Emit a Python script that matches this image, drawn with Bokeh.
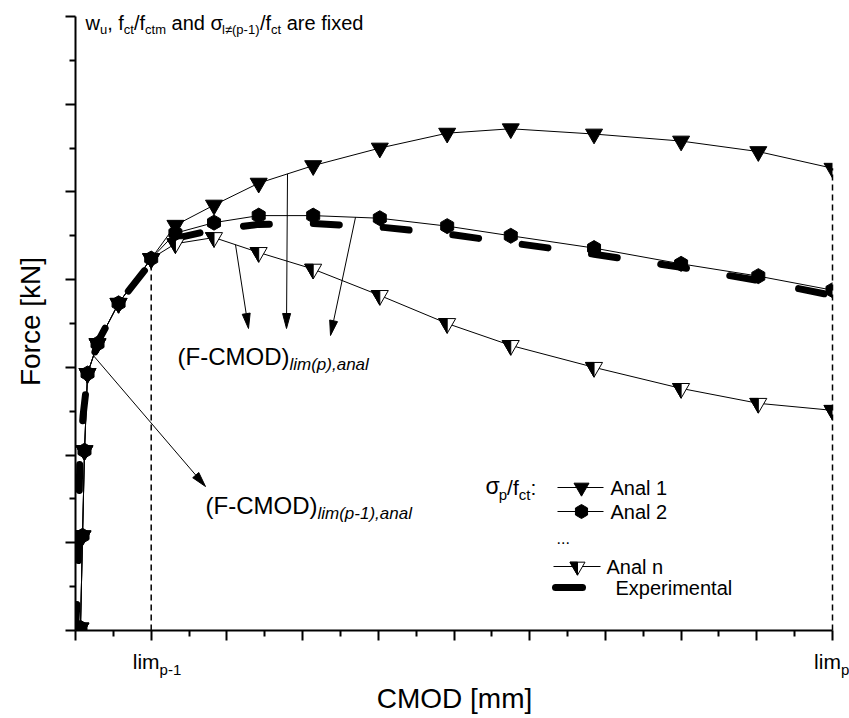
import math
import numpy as np
from bokeh.plotting import figure
from bokeh.models import Range1d, FixedTicker, Label, CustomJSTickFormatter
from bokeh.embed import file_html
from bokeh.resources import INLINE

# ---------------- data ----------------
cmod_shared = [0.066, 0.093, 0.119, 0.159, 0.291, 0.569, 1.0]
force_shared = [0.03, 1.08, 2.05, 2.93, 3.27, 3.73, 4.24]
cmod_post = [1.32, 1.83, 2.42, 3.14, 4.02, 4.91, 5.75, 6.85, 8.0, 9.02, 10.0]
force_anal1 = [4.62, 4.85, 5.10, 5.30, 5.50, 5.67, 5.72, 5.66, 5.58, 5.46, 5.27]
force_anal2 = [4.53, 4.65, 4.73, 4.73, 4.70, 4.61, 4.50, 4.36, 4.18, 4.04, 3.88]
force_analn = [4.41, 4.48, 4.31, 4.12, 3.82, 3.50, 3.25, 3.00, 2.76, 2.59, 2.51]
cmod_exp = [0.0, 0.03, 0.045, 0.055, 0.10, 0.16, 0.30, 0.57, 1.0, 1.32, 1.83,
            2.42, 3.14, 4.02, 4.91, 5.75, 6.85, 8.0, 9.02, 10.0]
force_exp = [0.0, 0.5, 1.2, 1.9, 2.45, 2.9, 3.3, 3.73, 4.20, 4.47, 4.57,
             4.63, 4.64, 4.60, 4.52, 4.42, 4.29, 4.14, 3.99, 3.82]
lim_cmod = [1.0, 10.0]
lim_subs = ["p-1", "p"]
x_major = list(range(0, 11))
x_minor = [i + 0.5 for i in range(10)]
y_major = list(range(0, 8))
y_minor = [i + 0.5 for i in range(7)]

# ---------------- layout ----------------
W, H = 849, 718
L, R, T, B = 75, 17, 16, 88          # where the axes box sits in the canvas
KX = (W - L - R) / 10.0
KY = (H - T - B) / 7.0
FONT = "Liberation Sans"
XS, XE = -L / KX, 10 + R / KX
YS, YE = -B / KY, 7 + T / KY
BL = 0.35   # baseline correction (fraction of font size)


def X(px):
    return (px - L) / KX


def Y(py):
    return (H - B - py) / KY


AW = {' ': 278, ',': 278, '(': 333, ')': 333, '-': 333, '/': 278, '.': 278, ':': 278,
      '[': 278, ']': 278, '1': 556, 'A': 667, 'C': 722, 'D': 722, 'E': 667, 'F': 611,
      'M': 833, 'N': 722, 'O': 778, 'a': 556, 'c': 500, 'd': 556, 'e': 556, 'f': 278,
      'i': 222, 'k': 500, 'l': 222, 'm': 833, 'n': 556, 'o': 556, 'p': 556, 'r': 333,
      's': 500, 't': 278, 'u': 556, 'w': 722, 'x': 500, 'σ': 575, '≠': 584}


def tw(s, size):
    return sum(AW.get(c, 556) for c in s) * size / 1000.0


p = figure(width=W, height=H, x_range=Range1d(XS, XE), y_range=Range1d(YS, YE),
           output_backend="svg", toolbar_location=None,
           min_border_left=0, min_border_right=0, min_border_top=0, min_border_bottom=0)
p.outline_line_color = None
p.xgrid.visible = False
p.ygrid.visible = False
p.background_fill_color = "white"
p.border_fill_color = "white"

p.xaxis.ticker = FixedTicker(ticks=x_major, minor_ticks=x_minor)
p.yaxis.ticker = FixedTicker(ticks=y_major, minor_ticks=y_minor)
p.xaxis.fixed_location = 0
p.yaxis.fixed_location = 0
p.xaxis.bounds = (0, 10)
p.yaxis.bounds = (0, 7)
for ax in (p.xaxis[0], p.yaxis[0]):
    ax.axis_line_width = 2
    ax.axis_line_color = "black"
    ax.major_tick_line_width = 2
    ax.minor_tick_line_width = 2
    ax.major_tick_line_color = "black"
    ax.minor_tick_line_color = "black"
    ax.major_tick_out = 10
    ax.major_tick_in = 0
    ax.minor_tick_out = 6
    ax.minor_tick_in = 0
    ax.formatter = CustomJSTickFormatter(code="return ''")
    ax.major_label_standoff = 0

# series
a1x = cmod_shared + cmod_post
a1y = force_shared + force_anal1
a2x = cmod_shared + cmod_post
a2y = force_shared + force_anal2
anx = cmod_shared + cmod_post
any_ = force_shared + force_analn

# experimental
p.line(cmod_exp, force_exp, line_color="black", line_width=7, line_dash="26 44",
       line_cap="round", line_join="round")

# analytic curves
for xs, ys in ((a1x, a1y), (a2x, a2y), (anx, any_)):
    p.line(xs, ys, line_color="black", line_width=1)

TS = 17


def half_tri(xs, ys, size):
    r = size / 2.0
    h = r * math.sqrt(3)
    a = h / 3.0
    px, py = [], []
    for x, y in zip(xs, ys):
        px.append([x - r / KX, x, x])
        py.append([y + a / KY, y + a / KY, y - (h - a) / KY])
    return px, py


p.scatter(anx, any_, marker="inverted_triangle", size=TS, fill_color="white",
          line_color="black", line_width=1)
hx, hy = half_tri(anx, any_, TS)
p.patches(hx, hy, fill_color="black", line_color="black", line_width=1)
p.scatter(a2x, a2y, marker="hex", size=15, angle=math.pi / 6, fill_color="black",
          line_color="black")
p.scatter(a1x, a1y, marker="inverted_triangle", size=TS, fill_color="black",
          line_color="black")

# mask outside the axes box (the plot area clips its marks)
p.quad(left=[10, XS, XS], right=[XE, XE, 0], bottom=[0, YS, 0], top=[YE, 0, YE],
       fill_color="white", line_color=None)

# dashed limit lines
lim_top = [float(np.interp(c, a1x, a1y)) for c in lim_cmod]
p.segment(x0=lim_cmod, y0=[0, 0], x1=lim_cmod, y1=lim_top,
          line_color="black", line_width=1.5, line_dash="6 4")


# arrows
def arrow(x0, y0, x1, y1, hl=15, hw=4):
    sx0, sy0 = x0 * KX, y0 * KY
    sx1, sy1 = x1 * KX, y1 * KY
    d = math.hypot(sx1 - sx0, sy1 - sy0)
    ux, uy = (sx1 - sx0) / d, (sy1 - sy0) / d
    bx, by = sx1 - hl * ux, sy1 - hl * uy
    nx, ny = -uy, ux
    p.line([x0, bx / KX], [y0, by / KY], line_color="black", line_width=1)
    p.patch([x1, (bx + hw * nx) / KX, (bx - hw * nx) / KX],
            [y1, (by + hw * ny) / KY, (by - hw * ny) / KY],
            fill_color="black", line_color="black", line_width=1)


sx = X(93)
arrow(sx, float(np.interp(sx, a1x, a1y)), X(205), Y(486))
sx = X(235)
arrow(sx, float(np.interp(sx, anx, any_)), X(248), Y(328))
sx = X(287)
arrow(sx, float(np.interp(sx, a1x, a1y)), X(286), Y(328))
sx = X(355)
arrow(sx, float(np.interp(sx, a2x, a2y)), X(330), Y(335))


def rich(x_px, base_px, parts):
    x = x_px
    for text, size, dy, style in parts:
        lead = len(text) - len(text.lstrip(" "))
        core = text.strip(" ")
        if core:
            p.add_layout(Label(x=X(x + tw(" " * lead, size)),
                               y=Y(base_px + dy - BL * size), text=core,
                               text_font=FONT, text_font_size=f"{size}px",
                               text_font_style=style, text_baseline="alphabetic",
                               text_align="left", text_color="black"))
        x += tw(text, size)


# title
rich(85, 29, [("w", 20, 0, "normal"), ("u", 13, 5, "normal"),
              (", f", 20, 0, "normal"), ("ct", 13, 5, "normal"),
              ("/f", 20, 0, "normal"), ("ctm", 13, 5, "normal"),
              (" and σ", 20, 0, "normal"), ("l≠(p-1)", 13, 5, "normal"),
              ("/f", 20, 0, "normal"), ("ct", 13, 5, "normal"),
              (" are fixed", 20, 0, "normal")])

# annotations
rich(177, 364, [("(F-CMOD)", 24, 0, "normal"), ("lim(p),anal", 17, 6, "italic")])
rich(205, 513, [("(F-CMOD)", 24, 0, "normal"), ("lim(p-1),anal", 17, 6, "italic")])

# axis titles
p.add_layout(Label(x=X(454), y=Y(708 - BL * 28), text="CMOD [mm]", text_font=FONT,
                   text_font_size="28px", text_align="center",
                   text_baseline="alphabetic", text_color="black"))
p.add_layout(Label(x=X(40 - BL * 28), y=Y(321), text="Force [kN]", text_font=FONT,
                   text_font_size="28px", text_align="center", angle=math.pi / 2,
                   text_baseline="alphabetic", text_color="black"))

# tick labels lim
for c, sub in zip(lim_cmod, lim_subs):
    cx = L + c * KX
    w0 = tw("lim", 21)
    rich(cx - w0 / 2 - 5, 668, [("lim", 21, 0, "normal"), (sub, 15, 6, "normal")])

# legend
rich(485, 494, [("σ", 23, 0, "normal"), ("p", 15, 5, "normal"), ("/f", 21, 0, "normal"),
                ("ct", 15, 5, "normal"), (":", 21, 0, "normal")])
rows = [487, 511, 566, 587]
# Anal 1
p.line([X(557), X(603)], [Y(rows[0])] * 2, line_color="black", line_width=1)
p.scatter([X(581)], [Y(rows[0])], marker="inverted_triangle", size=15,
          fill_color="black", line_color="black")
rich(610, rows[0] + 7, [("Anal 1", 20, 0, "normal")])
# Anal 2
p.line([X(557), X(603)], [Y(rows[1])] * 2, line_color="black", line_width=1)
p.scatter([X(581)], [Y(rows[1])], marker="hex", size=14, angle=math.pi / 6,
          fill_color="black", line_color="black")
rich(610, rows[1] + 7, [("Anal 2", 20, 0, "normal")])
rich(556, 543, [("...", 16, 0, "normal")])
# Anal n
p.line([X(553), X(600)], [Y(rows[2])] * 2, line_color="black", line_width=1)
p.scatter([X(577)], [Y(rows[2])], marker="inverted_triangle", size=15,
          fill_color="white", line_color="black")
lx, ly = half_tri([X(577)], [Y(rows[2])], 15)
p.patches(lx, ly, fill_color="black", line_color="black", line_width=1)
rich(606, rows[2] + 7, [("Anal n", 20, 0, "normal")])
# Experimental
p.line([X(555), X(582)], [Y(rows[3])] * 2, line_color="black", line_width=7,
       line_cap="round")
rich(615, rows[3] + 7, [("Experimental", 20, 0, "normal")])

open("out.html", "w").write(file_html(p, INLINE))
